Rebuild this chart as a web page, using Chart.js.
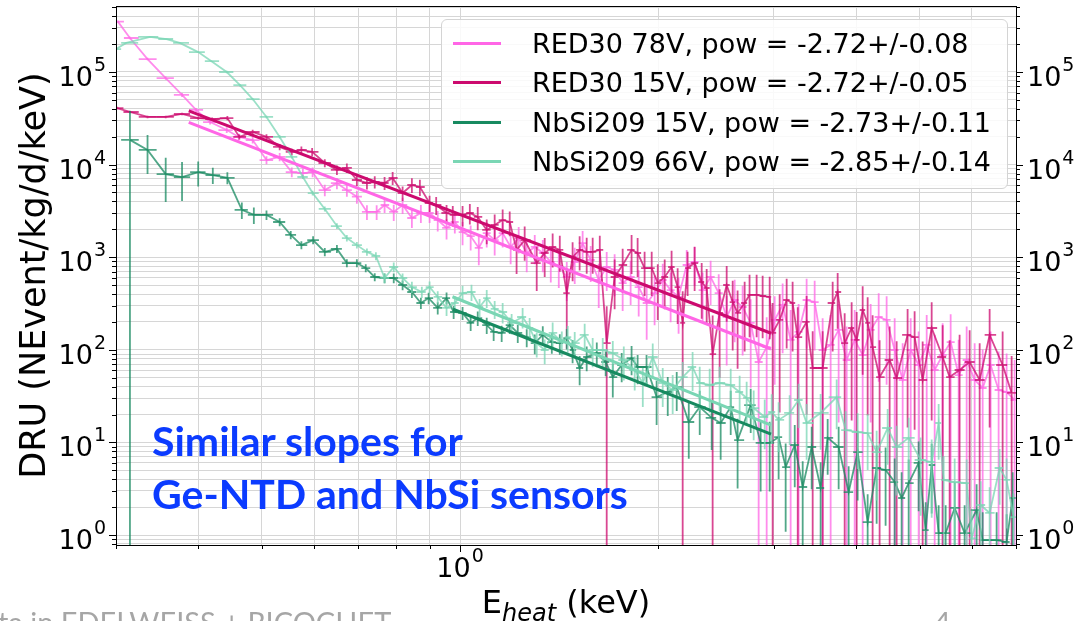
<!DOCTYPE html>
<html>
<head>
<meta charset="utf-8">
<title>DRU spectra</title>
<script src="https://cdn.jsdelivr.net/npm/chart.js@4.4.1/dist/chart.umd.min.js"></script>
<style>
  html, body { margin: 0; padding: 0; background: #fff; overflow: hidden; }
  #wrap { position: relative; width: 1091px; height: 621px; overflow: hidden; font-family: "DejaVu Sans", sans-serif; }
  #chart { position: absolute; left: 0; top: 0; }
  #legend { position: absolute; left: 441px; top: 19px; width: 567px; height: 170px; box-sizing: border-box;
            border: 1px solid #d4d4d4; border-radius: 6px; background: rgba(255,255,255,0.85); }
  .row { position: absolute; left: 0; height: 38px; display: flex; align-items: center; font-size: 27px; white-space: nowrap; color: #000; }
  .swatch { width: 48px; height: 3px; margin-left: 11px; margin-right: 31px; }
  #note { position: absolute; left: 152px; top: 414px; color: #0b3bff; font-family: Lato, sans-serif; font-weight: bold;
          font-size: 41px; line-height: 53px; white-space: nowrap; }
  #xlab { position: absolute; left: 0; width: 1132px; top: 586px; text-align: center; font-size: 32px; line-height: 32px; white-space: nowrap; }
  #xlab .sub { font-size: 24px; font-style: italic; position: relative; top: 8px; }
  #footer { position: absolute; left: -2px; top: 607px; color: #a6a6a6; font-family: Lato, sans-serif; font-size: 29px; line-height: 29px; white-space: nowrap; }
  #page { position: absolute; left: 934px; top: 607px; color: #a6a6a6; font-family: Lato, sans-serif; font-size: 29px; line-height: 29px; }
</style>
</head>
<body>
<div id="wrap">
  <canvas id="chart" width="1091" height="621"></canvas>
  <div id="legend"></div>
  <div id="note">Similar slopes for<br>Ge-NTD and NbSi sensors</div>
  <div id="xlab">E<span class="sub">heat</span> (keV)</div>
  <div id="footer">ta in EDELWEISS + RICOCHET</div>
  <div id="page">4</div>
</div>
<script>
// RED30 at 78 V: energy (keV), rate (DRU), relative error
const xRed78 = [
  0.302,0.315,0.335,0.357,0.378,0.397,0.417,0.442,0.461,0.484,
  0.508,0.532,0.555,0.577,0.597,0.623,0.650,0.673,0.697,0.722,
  0.747,0.768,0.793,0.818,0.845,0.872,0.899,0.925,0.954,0.982,
  1.009,1.038,1.068,1.098,1.129,1.161,1.194,1.228,1.263,1.299,
  1.336,1.374,1.413,1.453,1.494,1.536,1.580,1.625,1.671,1.718,
  1.767,1.817,1.869,1.922,1.976,2.033,2.090,2.149,2.211,2.273,
  2.338,2.404,2.473,2.543,2.615,2.689,2.766,2.844,2.925,3.008,
  3.093,3.181,3.271,3.364,3.460,3.558,3.659,3.763,3.870,3.980,
  4.093,4.209,4.329,4.451,4.578,4.708,4.842,4.979,5.121,5.266,
  5.415,5.569,5.727,5.890,6.057,6.229,6.405,6.587,6.774,6.966];
const yRed78 = [
  350000,233000,138000,86000,56500,39000,28800,23600,19900,18400,
  11200,12100,8300,8100,8300,5300,6300,5300,4500,3080,
  3080,3660,3080,3660,2650,3000,3000,2520,2070,2400,
  1870,1690,1260,1820,1530,1820,1290,1610,1110,1290,
  1110,888,804,611,888,1420,933,567,784,728,
  526,611,476,320,410,567,442,372,824,888,
  442,611,410,226,345,290,195,73.8,107,210,
  305,128,156,345,328,99.5,113,164,77.6,128,
  87.9,164,226,210,99.5,47.2,99.5,68.5,113,60.5,
  87.9,121,53.4,77.6,47.2,38.7,68.5,36.8,35.0,28.7];
const eRed78 = [
  0.03,0.03,0.03,0.04,0.05,0.05,0.06,0.07,0.08,0.08,
  0.1,0.1,0.12,0.12,0.12,0.14,0.14,0.15,0.16,0.18,
  0.18,0.18,0.2,0.2,0.22,0.22,0.22,0.25,0.25,0.25,
  0.28,0.3,0.35,0.3,0.32,0.3,0.35,0.32,0.38,0.35,
  0.38,0.4,0.42,0.45,0.42,0.35,0.42,0.5,0.45,0.48,
  0.5,0.5,0.52,0.6,0.55,0.5,0.55,0.6,0.45,0.45,
  0.55,0.5,0.6,0.7,0.65,0.7,0.8,1.2,1.1,0.8,
  0.7,1.1,1.0,0.7,0.7,1.2,1.1,0.9,1.3,1.1,
  1.2,0.9,0.8,0.8,1.2,1.5,1.2,1.3,1.1,1.4,
  1.2,1.0,1.4,1.3,1.5,1.6,1.3,1.6,1.6,1.7];

// RED30 at 15 V
const xRed15 = [
  0.301,0.315,0.335,0.357,0.378,0.400,0.420,0.443,0.462,0.484,
  0.508,0.532,0.555,0.574,0.596,0.623,0.650,0.673,0.697,0.722,
  0.742,0.768,0.790,0.818,0.845,0.869,0.899,0.920,0.954,0.975,
  1.009,1.035,1.064,1.098,1.129,1.161,1.190,1.219,1.254,1.308,
  1.345,1.383,1.418,1.453,1.483,1.520,1.558,1.591,1.631,1.671,
  1.718,1.767,1.823,1.862,1.908,1.956,1.998,2.047,2.097,2.142,
  2.180,2.218,2.273,2.330,2.371,2.421,2.481,2.543,2.597,2.642,
  2.708,2.755,2.824,2.884,2.956,2.987,3.061,3.137,3.203,3.261,
  3.364,3.436,3.558,3.685,3.750,3.843,3.938,4.008,4.093,4.165,
  4.238,4.343,4.498,4.610,4.790,4.909,5.049,5.211,5.415,5.549,
  5.746,5.952,6.164,6.383,6.680,6.894];
const yRed15 = [
  40800,37000,32700,32700,35200,31800,31000,31800,19900,22500,
  19900,15500,13700,14400,13700,10400,8750,9200,6820,6330,
  6490,6330,7170,4930,6020,5730,3850,3660,3000,2860,
  2860,3000,2720,1970,2230,2520,2400,1200,1530,865,
  1110,1290,1200,410,1000,1200,1140,1140,1200,118,
  611,824,1200,1110,764,764,526,611,784,476,
  195,764,865,540,465,90,250,501,328,250,
  320,391,391,381,372,152,210,345,320,137,
  200,63.6,63.6,320,421,118,172,128,269,195,
  107,50.8,77.6,49.6,145,137,47.2,172,83.6,50.8,
  60.5,73.8,47.2,145,68.5,34.2];
const eRed15 = [
  0.03,0.03,0.03,0.03,0.03,0.04,0.04,0.05,0.06,0.06,
  0.07,0.08,0.08,0.09,0.1,0.1,0.12,0.12,0.14,0.15,
  0.15,0.16,0.16,0.18,0.18,0.2,0.2,0.22,0.22,0.25,
  0.25,0.25,0.28,0.3,0.3,0.3,0.3,0.45,0.4,0.5,
  0.45,0.4,0.42,0.75,0.45,0.4,0.42,0.42,0.42,1.5,
  0.55,0.5,0.45,0.45,0.5,0.5,0.6,0.55,0.5,0.6,
  1.2,0.5,0.5,0.6,0.6,1.6,0.8,0.6,0.7,0.75,
  0.7,0.65,0.65,0.65,0.65,1.1,0.9,0.7,0.7,1.1,
  0.9,1.5,1.5,0.7,0.6,1.1,0.9,1.0,0.8,0.9,
  1.2,1.5,1.3,1.5,0.9,0.9,1.6,0.9,1.2,1.5,
  1.4,1.2,1.5,0.9,1.3,1.5];

// NbSi209 at 15 V
const xNb15 = [
  0.315,0.335,0.357,0.378,0.400,0.421,0.443,0.466,0.486,0.508,
  0.532,0.553,0.574,0.598,0.623,0.650,0.673,0.697,0.719,0.742,
  0.768,0.793,0.818,0.845,0.872,0.896,0.925,0.954,0.978,1.009,
  1.038,1.064,1.098,1.125,1.157,1.190,1.224,1.263,1.299,1.336,
  1.379,1.418,1.453,1.483,1.520,1.558,1.614,1.665,1.707,1.761,
  1.823,1.862,1.921,1.990,2.069,2.135,2.227,2.314,2.413,2.490,
  2.579,2.642,2.766,2.864,2.956,3.050,3.126,3.227,3.318,3.424,
  3.533,3.621,3.763,3.897,4.022,4.165,4.298,4.435,4.578,4.691,
  4.808,4.979,5.103,5.211,5.340,5.472,5.648,5.848,6.099,6.229,
  6.541,6.774,6.918];
const yNb15 = [
  18500,14400,7900,7340,8300,7700,7200,3240,2860,2860,
  2400,1740,1350,1530,1140,1230,865,865,764,611,
  596,596,501,421,320,362,283,362,256,250,
  195,220,185,156,152,185,152,137,118,145,
  121,118,134,99.5,63.6,83.6,92.3,73.8,50.8,68.5,
  81.5,65.2,65.2,30.9,35.0,39.6,16.6,24.1,18.4,16.2,
  24.1,10.6,25.3,9.86,9.86,11.4,5.42,9.37,3.30,8.92,
  3.22,11.2,8.92,2.91,7.87,1.38,5.29,5.04,3.73,2.51,
  3.64,6.0,1.13,5.70,1.05,1.05,1.96,1.05,1.86,0.88,
  0.88,0.84,2.51];
const eNb15 = [
  1.05,0.45,0.5,0.45,0.3,0.2,0.15,0.2,0.2,0.12,
  0.1,0.1,0.1,0.1,0.1,0.1,0.1,0.1,0.1,0.1,
  0.12,0.12,0.12,0.14,0.14,0.14,0.15,0.15,0.16,0.16,
  0.18,0.18,0.2,0.2,0.2,0.2,0.22,0.22,0.24,0.24,
  0.25,0.25,0.25,0.28,0.35,0.3,0.3,0.3,0.4,0.35,
  0.35,0.35,0.35,0.5,0.45,0.45,0.6,0.5,0.55,0.6,
  0.5,0.7,0.5,0.7,0.7,0.65,0.8,0.65,0.9,0.65,
  0.9,0.6,0.65,0.9,0.7,1.0,0.75,0.75,0.8,0.9,
  0.8,0.7,1.0,0.7,1.0,1.0,0.9,1.0,0.9,1.0,
  1.0,1.0,0.9];

// NbSi209 at 66 V
const xNb66 = [
  0.300,0.311,0.338,0.358,0.375,0.400,0.419,0.442,0.463,0.484,
  0.508,0.532,0.555,0.577,0.597,0.623,0.650,0.673,0.697,0.722,
  0.745,0.768,0.793,0.818,0.845,0.875,0.899,0.925,0.954,0.982,
  1.009,1.041,1.071,1.098,1.129,1.161,1.198,1.245,1.276,1.308,
  1.345,1.383,1.428,1.458,1.494,1.547,1.591,1.648,1.707,1.774,
  1.843,1.896,1.963,2.033,2.105,2.180,2.257,2.314,2.396,2.481,
  2.579,2.661,2.727,2.795,2.905,2.977,3.050,3.170,3.271,3.364,
  3.533,3.737,3.857,4.022,4.165,4.298,4.467,4.610,4.808,5.014,
  5.211,5.340,5.434,5.648,5.890,5.994,6.186,6.383,6.610,6.774,
  6.942];
const yNb66 = [
  177000,206000,239000,227000,206000,164000,131000,100000,72000,51000,
  32700,19900,12100,7350,4930,3320,2170,1610,1350,1140,
  1030,596,784,596,476,421,476,372,283,320,
  410,421,290,362,276,256,195,226,172,118,
  99.5,152,121,137,118,145,99.5,99.5,92.3,77.6,
  60.5,43.8,83.6,43.8,36.8,50.8,65.2,43.8,41.7,43.8,
  41.7,35.0,30.2,23.5,18.8,21.3,17.5,20.8,28.7,16.2,
  20.8,30.9,13.6,12.9,12.6,7.87,14.3,8.92,11.2,6.46,
  6.14,16.2,3.93,3.73,3.64,0.92,2.11,1.73,5.29,3.93,
  1.56];
const eNb66 = [
  0.02,0.02,0.02,0.02,0.02,0.02,0.02,0.03,0.03,0.03,
  0.03,0.04,0.04,0.05,0.06,0.06,0.07,0.08,0.08,0.09,
  0.1,0.12,0.12,0.12,0.14,0.14,0.15,0.15,0.18,0.18,
  0.2,0.2,0.22,0.22,0.22,0.25,0.25,0.25,0.28,0.3,
  0.3,0.3,0.3,0.32,0.32,0.32,0.35,0.35,0.35,0.4,
  0.4,0.45,0.4,0.45,0.45,0.45,0.45,0.5,0.5,0.5,
  0.5,0.5,0.5,0.55,0.55,0.55,0.55,0.55,0.5,0.6,
  0.6,0.55,0.6,0.6,0.6,0.7,0.6,0.7,0.65,0.75,
  0.75,0.6,0.8,0.8,0.8,1.0,0.8,0.9,0.6,0.7,
  0.8];

// power-law fits (end points)
const xFitRed78 = [0.387, 2.97], yFitRed78 = [28500, 102];
const xFitRed15 = [0.387, 2.97], yFitRed15 = [38000, 151];
const xFitNb15 = [0.976, 2.97], yFitNb15 = [274, 12.3];
const xFitNb66 = [0.974, 2.97], yFitNb66 = [374, 15.4];

const fitLabels = [
  'RED30 78V, pow = -2.72+/-0.08',
  'RED30 15V, pow = -2.72+/-0.05',
  'NbSi209 15V, pow = -2.73+/-0.11',
  'NbSi209 66V, pow = -2.85+/-0.14'];
const colors = ['#ff66e6', '#cc0a6e', '#178a60', '#7ad6b4'];
const dataColors = ['rgba(255,102,230,0.75)', 'rgba(204,10,110,0.75)', 'rgba(23,138,96,0.75)', 'rgba(122,214,180,0.75)'];

// axes
const xMin = 0.3, xMax = 7;
const yMin = 0.78, yMax = 5.16e5;
const xTickDecades = [0.1, 1];
const xLabelValues = [1];
const xLabelExps = ['0'];
const yTickDecades = [0.1, 1, 10, 100, 1000, 10000, 100000];
const yLabelValues = [1, 10, 100, 1000, 10000, 100000];
const yLabelExps = ['0', '1', '2', '3', '4', '5'];

function logTicks(decades, lo, hi) {
  const out = [];
  decades.forEach(d => {
    for (let m = 1; m <= 9; m++) {
      const v = d * m;
      if (v >= lo - 1e-9 && v <= hi + 1e-9) out.push({ value: v, major: m === 1 });
    }
  });
  return out;
}

function toPoints(xs, ys) {
  return xs.map((x, i) => ({ x: x, y: ys[i] }));
}

const datasets = [
  { data: toPoints(xRed78, yRed78), relErr: eRed78, borderColor: dataColors[0], borderWidth: 1.8, order: 8 },
  { data: toPoints(xRed15, yRed15), relErr: eRed15, borderColor: dataColors[1], borderWidth: 1.8, order: 7 },
  { data: toPoints(xNb15, yNb15), relErr: eNb15, borderColor: dataColors[2], borderWidth: 1.8, order: 6 },
  { data: toPoints(xNb66, yNb66), relErr: eNb66, borderColor: dataColors[3], borderWidth: 1.8, order: 5 },
  { label: fitLabels[0], data: toPoints(xFitRed78, yFitRed78), borderColor: colors[0], borderWidth: 3, order: 4 },
  { label: fitLabels[1], data: toPoints(xFitRed15, yFitRed15), borderColor: colors[1], borderWidth: 3, order: 3 },
  { label: fitLabels[2], data: toPoints(xFitNb15, yFitNb15), borderColor: colors[2], borderWidth: 3, order: 2 },
  { label: fitLabels[3], data: toPoints(xFitNb66, yFitNb66), borderColor: colors[3], borderWidth: 3, order: 1 }
];
datasets.forEach(d => { d.xAxisID = 'x'; d.yAxisID = 'y'; d.pointRadius = 0; d.tension = 0; d.fill = false; });

// error bars: vertical from the relative error, horizontal across the bin
const errorBars = {
  id: 'errorBars',
  beforeDatasetDraw(chart, args) {
    const ds = chart.data.datasets[args.index];
    if (!ds.relErr) return;
    const ctx = chart.ctx, a = chart.chartArea;
    const xs = chart.scales.x, ys = chart.scales.y;
    const pts = ds.data;
    const px = pts.map(p => xs.getPixelForValue(p.x));
    ctx.save();
    ctx.beginPath();
    ctx.rect(a.left, a.top, a.right - a.left, a.bottom - a.top);
    ctx.clip();
    ctx.strokeStyle = ds.borderColor;
    ctx.lineWidth = 1.8;
    pts.forEach((p, i) => {
      const x = px[i];
      const y = ys.getPixelForValue(p.y);
      const left = i > 0 ? (x - px[i - 1]) / 2 : (px[i + 1] - x) / 2;
      const right = i < pts.length - 1 ? (px[i + 1] - x) / 2 : left;
      const e = p.y * ds.relErr[i];
      const top = ys.getPixelForValue(p.y + e);
      const bot = p.y - e > 0 ? ys.getPixelForValue(p.y - e) : a.bottom + 5;
      ctx.beginPath();
      ctx.moveTo(x - left, y);
      ctx.lineTo(x + right, y);
      ctx.moveTo(x, top);
      ctx.lineTo(x, bot);
      ctx.stroke();
    });
    ctx.restore();
  }
};

// "10" with a raised exponent, like the mathtext labels
function drawPow(ctx, exp, x, baseline, align) {
  ctx.font = '27px "DejaVu Sans"';
  const wb = ctx.measureText('10').width;
  ctx.font = '19px "DejaVu Sans"';
  const we = ctx.measureText(exp).width;
  const total = wb + 1 + we;
  const x0 = align === 'right' ? x - total : align === 'center' ? x - total / 2 : x;
  ctx.font = '27px "DejaVu Sans"';
  ctx.fillText('10', x0, baseline);
  ctx.font = '19px "DejaVu Sans"';
  ctx.fillText(exp, x0 + wb + 1, baseline - 15);
}

// black frame, outward tick marks and decade labels
const frame = {
  id: 'frame',
  afterDraw(chart) {
    const ctx = chart.ctx, a = chart.chartArea;
    const xs = chart.scales.x, ys = chart.scales.y;
    ctx.save();
    ctx.strokeStyle = '#000';
    ctx.lineWidth = 1;
    ctx.strokeRect(a.left + 0.5, a.top + 0.5, a.right - a.left, a.bottom - a.top);
    ctx.beginPath();
    xs.ticks.forEach(t => {
      const p = Math.round(xs.getPixelForValue(t.value)) + 0.5;
      ctx.moveTo(p, a.bottom);
      ctx.lineTo(p, a.bottom + (t.major ? 7 : 4));
    });
    ys.ticks.forEach(t => {
      const p = Math.round(ys.getPixelForValue(t.value)) + 0.5;
      const len = t.major ? 7 : 4;
      ctx.moveTo(a.left, p);
      ctx.lineTo(a.left - len, p);
      ctx.moveTo(a.right, p);
      ctx.lineTo(a.right + len, p);
    });
    ctx.stroke();
    ctx.fillStyle = '#000';
    ctx.textAlign = 'left';
    ctx.textBaseline = 'alphabetic';
    xLabelValues.forEach((v, i) => {
      drawPow(ctx, xLabelExps[i], xs.getPixelForValue(v), a.bottom + 32, 'center');
    });
    yLabelValues.forEach((v, i) => {
      const p = ys.getPixelForValue(v) + 14;
      drawPow(ctx, yLabelExps[i], a.left - 10, p, 'right');
      drawPow(ctx, yLabelExps[i], a.right + 11, p, 'left');
    });
    ctx.restore();
  }
};

const gridStyle = { color: '#d6d6d6', lineWidth: 1, drawTicks: false };

const chart = new Chart(document.getElementById('chart'), {
  type: 'line',
  data: { datasets: datasets },
  options: {
    responsive: false,
    animation: false,
    devicePixelRatio: 1,
    layout: { autoPadding: false, padding: { top: 6, left: 0, right: 0, bottom: 0 } },
    plugins: { legend: { display: false }, tooltip: { enabled: false } },
    scales: {
      x: {
        type: 'logarithmic', position: 'bottom', min: xMin, max: xMax,
        afterBuildTicks: s => { s.ticks = logTicks(xTickDecades, xMin, xMax); },
        afterFit: s => { s.height = 76; s.paddingLeft = 0; s.paddingRight = 0; },
        ticks: { display: false, autoSkip: false },
        grid: gridStyle,
        border: { display: false }
      },
      y: {
        type: 'logarithmic', position: 'left', min: yMin, max: yMax,
        afterBuildTicks: s => { s.ticks = logTicks(yTickDecades, yMin, yMax); },
        afterFit: s => { s.width = 116; s.paddingTop = 0; s.paddingBottom = 0; },
        ticks: { display: false, autoSkip: false },
        grid: gridStyle,
        border: { display: false },
        title: { display: true, text: 'DRU (NEvent/kg/d/keV)', color: '#000',
                 font: { family: 'DejaVu Sans', size: 35 }, padding: { top: 15, bottom: 0 } }
      },
      y2: {
        type: 'logarithmic', position: 'right', min: yMin, max: yMax,
        afterBuildTicks: s => { s.ticks = logTicks(yTickDecades, yMin, yMax); },
        afterFit: s => { s.width = 75; s.paddingTop = 0; s.paddingBottom = 0; },
        ticks: { display: false, autoSkip: false },
        grid: { display: false },
        border: { display: false }
      }
    }
  },
  plugins: [errorBars, frame]
});

// legend built from the fit datasets
const legendEl = document.getElementById('legend');
fitLabels.forEach((name, i) => {
  const row = document.createElement('div');
  row.className = 'row';
  row.style.top = (4 + i * 39.5) + 'px';
  const sw = document.createElement('span');
  sw.className = 'swatch';
  sw.style.background = colors[i];
  const tx = document.createElement('span');
  tx.textContent = name;
  row.appendChild(sw);
  row.appendChild(tx);
  legendEl.appendChild(row);
});
</script>
</body>
</html>
